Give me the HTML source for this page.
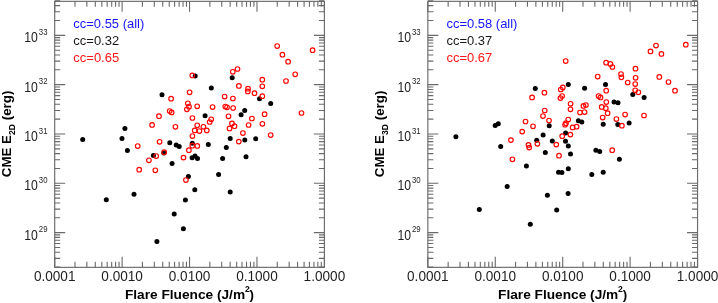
<!DOCTYPE html>
<html><head><meta charset="utf-8"><style>
html,body{margin:0;padding:0;background:#fff;overflow:hidden;width:718px;height:303px;}
svg{display:block;will-change:transform;}
text{font-family:"Liberation Sans",sans-serif;}
.tl{font-size:14.3px;fill:#1e1e1e;}
.sup{font-size:9.2px;fill:#1e1e1e;}
.lg{font-size:13.6px;}
.ti{font-size:13.3px;font-weight:bold;fill:#000;}
.tis{font-size:8.6px;font-weight:bold;fill:#000;}
</style></head><body>
<svg width="718" height="303" viewBox="0 0 718 303">
<rect x="54.70" y="1.35" width="269.70" height="266.00" fill="none" stroke="#6a6a6a" stroke-width="1.15"/>
<path d="M54.70 267.35v-10.5M54.70 1.35v10.5M75.00 267.35v-5.5M75.00 1.35v5.5M86.87 267.35v-5.5M86.87 1.35v5.5M95.29 267.35v-5.5M95.29 1.35v5.5M101.83 267.35v-5.5M101.83 1.35v5.5M107.17 267.35v-5.5M107.17 1.35v5.5M111.68 267.35v-5.5M111.68 1.35v5.5M115.59 267.35v-5.5M115.59 1.35v5.5M119.04 267.35v-5.5M119.04 1.35v5.5M122.12 267.35v-10.5M122.12 1.35v10.5M142.42 267.35v-5.5M142.42 1.35v5.5M154.29 267.35v-5.5M154.29 1.35v5.5M162.72 267.35v-5.5M162.72 1.35v5.5M169.25 267.35v-5.5M169.25 1.35v5.5M174.59 267.35v-5.5M174.59 1.35v5.5M179.11 267.35v-5.5M179.11 1.35v5.5M183.02 267.35v-5.5M183.02 1.35v5.5M186.46 267.35v-5.5M186.46 1.35v5.5M189.55 267.35v-10.5M189.55 1.35v10.5M209.85 267.35v-5.5M209.85 1.35v5.5M221.72 267.35v-5.5M221.72 1.35v5.5M230.14 267.35v-5.5M230.14 1.35v5.5M236.68 267.35v-5.5M236.68 1.35v5.5M242.02 267.35v-5.5M242.02 1.35v5.5M246.53 267.35v-5.5M246.53 1.35v5.5M250.44 267.35v-5.5M250.44 1.35v5.5M253.89 267.35v-5.5M253.89 1.35v5.5M256.97 267.35v-10.5M256.97 1.35v10.5M277.27 267.35v-5.5M277.27 1.35v5.5M289.14 267.35v-5.5M289.14 1.35v5.5M297.57 267.35v-5.5M297.57 1.35v5.5M304.10 267.35v-5.5M304.10 1.35v5.5M309.44 267.35v-5.5M309.44 1.35v5.5M313.96 267.35v-5.5M313.96 1.35v5.5M317.87 267.35v-5.5M317.87 1.35v5.5M321.31 267.35v-5.5M321.31 1.35v5.5M324.40 267.35v-10.5M324.40 1.35v10.5M54.70 267.10h5.5M324.40 267.10h-5.5M54.70 258.42h5.5M324.40 258.42h-5.5M54.70 252.26h5.5M324.40 252.26h-5.5M54.70 247.48h5.5M324.40 247.48h-5.5M54.70 243.57h5.5M324.40 243.57h-5.5M54.70 240.27h5.5M324.40 240.27h-5.5M54.70 237.41h5.5M324.40 237.41h-5.5M54.70 234.89h5.5M324.40 234.89h-5.5M54.70 232.63h10.5M324.40 232.63h-10.5M54.70 217.78h5.5M324.40 217.78h-5.5M54.70 209.10h5.5M324.40 209.10h-5.5M54.70 202.94h5.5M324.40 202.94h-5.5M54.70 198.16h5.5M324.40 198.16h-5.5M54.70 194.25h5.5M324.40 194.25h-5.5M54.70 190.95h5.5M324.40 190.95h-5.5M54.70 188.09h5.5M324.40 188.09h-5.5M54.70 185.57h5.5M324.40 185.57h-5.5M54.70 183.31h10.5M324.40 183.31h-10.5M54.70 168.46h5.5M324.40 168.46h-5.5M54.70 159.78h5.5M324.40 159.78h-5.5M54.70 153.62h5.5M324.40 153.62h-5.5M54.70 148.84h5.5M324.40 148.84h-5.5M54.70 144.93h5.5M324.40 144.93h-5.5M54.70 141.63h5.5M324.40 141.63h-5.5M54.70 138.77h5.5M324.40 138.77h-5.5M54.70 136.25h5.5M324.40 136.25h-5.5M54.70 133.99h10.5M324.40 133.99h-10.5M54.70 119.14h5.5M324.40 119.14h-5.5M54.70 110.46h5.5M324.40 110.46h-5.5M54.70 104.30h5.5M324.40 104.30h-5.5M54.70 99.52h5.5M324.40 99.52h-5.5M54.70 95.61h5.5M324.40 95.61h-5.5M54.70 92.31h5.5M324.40 92.31h-5.5M54.70 89.45h5.5M324.40 89.45h-5.5M54.70 86.93h5.5M324.40 86.93h-5.5M54.70 84.67h10.5M324.40 84.67h-10.5M54.70 69.82h5.5M324.40 69.82h-5.5M54.70 61.14h5.5M324.40 61.14h-5.5M54.70 54.98h5.5M324.40 54.98h-5.5M54.70 50.20h5.5M324.40 50.20h-5.5M54.70 46.29h5.5M324.40 46.29h-5.5M54.70 42.99h5.5M324.40 42.99h-5.5M54.70 40.13h5.5M324.40 40.13h-5.5M54.70 37.61h5.5M324.40 37.61h-5.5M54.70 35.35h10.5M324.40 35.35h-10.5M54.70 20.50h5.5M324.40 20.50h-5.5M54.70 11.82h5.5M324.40 11.82h-5.5M54.70 5.66h5.5M324.40 5.66h-5.5M54.70 0.88h5.5M324.40 0.88h-5.5" stroke="#6a6a6a" stroke-width="1.1" fill="none"/>
<text x="54.70" y="281.1" class="tl" text-anchor="middle" textLength="41.6" lengthAdjust="spacingAndGlyphs">0.0001</text>
<text x="122.12" y="281.1" class="tl" text-anchor="middle" textLength="41.6" lengthAdjust="spacingAndGlyphs">0.0010</text>
<text x="189.55" y="281.1" class="tl" text-anchor="middle" textLength="41.6" lengthAdjust="spacingAndGlyphs">0.0100</text>
<text x="256.97" y="281.1" class="tl" text-anchor="middle" textLength="41.6" lengthAdjust="spacingAndGlyphs">0.1000</text>
<text x="324.40" y="281.1" class="tl" text-anchor="middle" textLength="41.6" lengthAdjust="spacingAndGlyphs">1.0000</text>
<text x="24.30" y="239.63" class="tl" textLength="13.6" lengthAdjust="spacingAndGlyphs">10</text>
<text x="38.80" y="232.43" class="sup" textLength="8.7" lengthAdjust="spacingAndGlyphs">29</text>
<text x="24.30" y="190.31" class="tl" textLength="13.6" lengthAdjust="spacingAndGlyphs">10</text>
<text x="38.80" y="183.11" class="sup" textLength="8.7" lengthAdjust="spacingAndGlyphs">30</text>
<text x="24.30" y="140.99" class="tl" textLength="13.6" lengthAdjust="spacingAndGlyphs">10</text>
<text x="38.80" y="133.79" class="sup" textLength="8.7" lengthAdjust="spacingAndGlyphs">31</text>
<text x="24.30" y="91.67" class="tl" textLength="13.6" lengthAdjust="spacingAndGlyphs">10</text>
<text x="38.80" y="84.47" class="sup" textLength="8.7" lengthAdjust="spacingAndGlyphs">32</text>
<text x="24.30" y="42.35" class="tl" textLength="13.6" lengthAdjust="spacingAndGlyphs">10</text>
<text x="38.80" y="35.15" class="sup" textLength="8.7" lengthAdjust="spacingAndGlyphs">33</text>
<rect x="427.85" y="1.35" width="269.70" height="266.00" fill="none" stroke="#6a6a6a" stroke-width="1.15"/>
<path d="M427.85 267.35v-10.5M427.85 1.35v10.5M448.15 267.35v-5.5M448.15 1.35v5.5M460.02 267.35v-5.5M460.02 1.35v5.5M468.44 267.35v-5.5M468.44 1.35v5.5M474.98 267.35v-5.5M474.98 1.35v5.5M480.32 267.35v-5.5M480.32 1.35v5.5M484.83 267.35v-5.5M484.83 1.35v5.5M488.74 267.35v-5.5M488.74 1.35v5.5M492.19 267.35v-5.5M492.19 1.35v5.5M495.28 267.35v-10.5M495.28 1.35v10.5M515.57 267.35v-5.5M515.57 1.35v5.5M527.44 267.35v-5.5M527.44 1.35v5.5M535.87 267.35v-5.5M535.87 1.35v5.5M542.40 267.35v-5.5M542.40 1.35v5.5M547.74 267.35v-5.5M547.74 1.35v5.5M552.26 267.35v-5.5M552.26 1.35v5.5M556.17 267.35v-5.5M556.17 1.35v5.5M559.61 267.35v-5.5M559.61 1.35v5.5M562.70 267.35v-10.5M562.70 1.35v10.5M583.00 267.35v-5.5M583.00 1.35v5.5M594.87 267.35v-5.5M594.87 1.35v5.5M603.29 267.35v-5.5M603.29 1.35v5.5M609.83 267.35v-5.5M609.83 1.35v5.5M615.17 267.35v-5.5M615.17 1.35v5.5M619.68 267.35v-5.5M619.68 1.35v5.5M623.59 267.35v-5.5M623.59 1.35v5.5M627.04 267.35v-5.5M627.04 1.35v5.5M630.12 267.35v-10.5M630.12 1.35v10.5M650.42 267.35v-5.5M650.42 1.35v5.5M662.29 267.35v-5.5M662.29 1.35v5.5M670.72 267.35v-5.5M670.72 1.35v5.5M677.25 267.35v-5.5M677.25 1.35v5.5M682.59 267.35v-5.5M682.59 1.35v5.5M687.11 267.35v-5.5M687.11 1.35v5.5M691.02 267.35v-5.5M691.02 1.35v5.5M694.46 267.35v-5.5M694.46 1.35v5.5M697.55 267.35v-10.5M697.55 1.35v10.5M427.85 267.10h5.5M697.55 267.10h-5.5M427.85 258.42h5.5M697.55 258.42h-5.5M427.85 252.26h5.5M697.55 252.26h-5.5M427.85 247.48h5.5M697.55 247.48h-5.5M427.85 243.57h5.5M697.55 243.57h-5.5M427.85 240.27h5.5M697.55 240.27h-5.5M427.85 237.41h5.5M697.55 237.41h-5.5M427.85 234.89h5.5M697.55 234.89h-5.5M427.85 232.63h10.5M697.55 232.63h-10.5M427.85 217.78h5.5M697.55 217.78h-5.5M427.85 209.10h5.5M697.55 209.10h-5.5M427.85 202.94h5.5M697.55 202.94h-5.5M427.85 198.16h5.5M697.55 198.16h-5.5M427.85 194.25h5.5M697.55 194.25h-5.5M427.85 190.95h5.5M697.55 190.95h-5.5M427.85 188.09h5.5M697.55 188.09h-5.5M427.85 185.57h5.5M697.55 185.57h-5.5M427.85 183.31h10.5M697.55 183.31h-10.5M427.85 168.46h5.5M697.55 168.46h-5.5M427.85 159.78h5.5M697.55 159.78h-5.5M427.85 153.62h5.5M697.55 153.62h-5.5M427.85 148.84h5.5M697.55 148.84h-5.5M427.85 144.93h5.5M697.55 144.93h-5.5M427.85 141.63h5.5M697.55 141.63h-5.5M427.85 138.77h5.5M697.55 138.77h-5.5M427.85 136.25h5.5M697.55 136.25h-5.5M427.85 133.99h10.5M697.55 133.99h-10.5M427.85 119.14h5.5M697.55 119.14h-5.5M427.85 110.46h5.5M697.55 110.46h-5.5M427.85 104.30h5.5M697.55 104.30h-5.5M427.85 99.52h5.5M697.55 99.52h-5.5M427.85 95.61h5.5M697.55 95.61h-5.5M427.85 92.31h5.5M697.55 92.31h-5.5M427.85 89.45h5.5M697.55 89.45h-5.5M427.85 86.93h5.5M697.55 86.93h-5.5M427.85 84.67h10.5M697.55 84.67h-10.5M427.85 69.82h5.5M697.55 69.82h-5.5M427.85 61.14h5.5M697.55 61.14h-5.5M427.85 54.98h5.5M697.55 54.98h-5.5M427.85 50.20h5.5M697.55 50.20h-5.5M427.85 46.29h5.5M697.55 46.29h-5.5M427.85 42.99h5.5M697.55 42.99h-5.5M427.85 40.13h5.5M697.55 40.13h-5.5M427.85 37.61h5.5M697.55 37.61h-5.5M427.85 35.35h10.5M697.55 35.35h-10.5M427.85 20.50h5.5M697.55 20.50h-5.5M427.85 11.82h5.5M697.55 11.82h-5.5M427.85 5.66h5.5M697.55 5.66h-5.5M427.85 0.88h5.5M697.55 0.88h-5.5" stroke="#6a6a6a" stroke-width="1.1" fill="none"/>
<text x="427.85" y="281.1" class="tl" text-anchor="middle" textLength="41.6" lengthAdjust="spacingAndGlyphs">0.0001</text>
<text x="495.28" y="281.1" class="tl" text-anchor="middle" textLength="41.6" lengthAdjust="spacingAndGlyphs">0.0010</text>
<text x="562.70" y="281.1" class="tl" text-anchor="middle" textLength="41.6" lengthAdjust="spacingAndGlyphs">0.0100</text>
<text x="630.12" y="281.1" class="tl" text-anchor="middle" textLength="41.6" lengthAdjust="spacingAndGlyphs">0.1000</text>
<text x="697.55" y="281.1" class="tl" text-anchor="middle" textLength="41.6" lengthAdjust="spacingAndGlyphs">1.0000</text>
<text x="397.45" y="239.63" class="tl" textLength="13.6" lengthAdjust="spacingAndGlyphs">10</text>
<text x="411.95" y="232.43" class="sup" textLength="8.7" lengthAdjust="spacingAndGlyphs">29</text>
<text x="397.45" y="190.31" class="tl" textLength="13.6" lengthAdjust="spacingAndGlyphs">10</text>
<text x="411.95" y="183.11" class="sup" textLength="8.7" lengthAdjust="spacingAndGlyphs">30</text>
<text x="397.45" y="140.99" class="tl" textLength="13.6" lengthAdjust="spacingAndGlyphs">10</text>
<text x="411.95" y="133.79" class="sup" textLength="8.7" lengthAdjust="spacingAndGlyphs">31</text>
<text x="397.45" y="91.67" class="tl" textLength="13.6" lengthAdjust="spacingAndGlyphs">10</text>
<text x="411.95" y="84.47" class="sup" textLength="8.7" lengthAdjust="spacingAndGlyphs">32</text>
<text x="397.45" y="42.35" class="tl" textLength="13.6" lengthAdjust="spacingAndGlyphs">10</text>
<text x="411.95" y="35.15" class="sup" textLength="8.7" lengthAdjust="spacingAndGlyphs">33</text>
<g fill="#000"><circle cx="232.2" cy="77.7" r="2.5"/><circle cx="195.2" cy="75.9" r="2.5"/><circle cx="162.0" cy="94.8" r="2.5"/><circle cx="124.9" cy="128.4" r="2.5"/><circle cx="211.3" cy="88.0" r="2.5"/><circle cx="259.5" cy="98.8" r="2.5"/><circle cx="270.7" cy="103.6" r="2.5"/><circle cx="244.7" cy="110.4" r="2.5"/><circle cx="241.1" cy="114.7" r="2.5"/><circle cx="205.1" cy="115.7" r="2.5"/><circle cx="230.2" cy="138.4" r="2.5"/><circle cx="244.8" cy="140.0" r="2.5"/><circle cx="255.7" cy="138.7" r="2.5"/><circle cx="82.7" cy="139.4" r="2.5"/><circle cx="122.0" cy="138.4" r="2.5"/><circle cx="127.4" cy="150.6" r="2.5"/><circle cx="169.8" cy="142.7" r="2.5"/><circle cx="176.2" cy="144.9" r="2.5"/><circle cx="179.2" cy="146.4" r="2.5"/><circle cx="192.3" cy="143.2" r="2.5"/><circle cx="208.3" cy="144.5" r="2.5"/><circle cx="163.8" cy="153.0" r="2.5"/><circle cx="153.4" cy="155.5" r="2.5"/><circle cx="192.1" cy="157.7" r="2.5"/><circle cx="195.0" cy="156.1" r="2.5"/><circle cx="197.5" cy="158.6" r="2.5"/><circle cx="226.3" cy="147.4" r="2.5"/><circle cx="222.6" cy="158.4" r="2.5"/><circle cx="246.0" cy="156.8" r="2.5"/><circle cx="172.1" cy="163.6" r="2.5"/><circle cx="188.4" cy="176.6" r="2.5"/><circle cx="218.6" cy="174.5" r="2.5"/><circle cx="134.0" cy="194.2" r="2.5"/><circle cx="106.3" cy="199.8" r="2.5"/><circle cx="194.8" cy="189.7" r="2.5"/><circle cx="185.4" cy="200.1" r="2.5"/><circle cx="230.2" cy="192.0" r="2.5"/><circle cx="174.2" cy="213.9" r="2.5"/><circle cx="183.4" cy="228.8" r="2.5"/><circle cx="156.9" cy="241.4" r="2.5"/></g>
<g fill="none" stroke="#ff0000" stroke-width="1.15"><circle cx="277.2" cy="46.0" r="2.3"/><circle cx="312.6" cy="50.2" r="2.3"/><circle cx="282.4" cy="54.7" r="2.3"/><circle cx="288.1" cy="61.7" r="2.3"/><circle cx="237.5" cy="69.0" r="2.3"/><circle cx="232.8" cy="71.8" r="2.3"/><circle cx="295.2" cy="74.3" r="2.3"/><circle cx="262.3" cy="79.7" r="2.3"/><circle cx="286.0" cy="81.0" r="2.3"/><circle cx="192.3" cy="75.4" r="2.3"/><circle cx="171.1" cy="98.7" r="2.3"/><circle cx="169.7" cy="111.1" r="2.3"/><circle cx="171.6" cy="112.4" r="2.3"/><circle cx="159.0" cy="116.2" r="2.3"/><circle cx="152.1" cy="124.9" r="2.3"/><circle cx="175.4" cy="126.8" r="2.3"/><circle cx="189.6" cy="92.3" r="2.3"/><circle cx="187.8" cy="103.3" r="2.3"/><circle cx="189.0" cy="106.7" r="2.3"/><circle cx="186.9" cy="109.3" r="2.3"/><circle cx="197.2" cy="106.3" r="2.3"/><circle cx="212.6" cy="107.1" r="2.3"/><circle cx="224.6" cy="96.6" r="2.3"/><circle cx="238.9" cy="85.9" r="2.3"/><circle cx="262.3" cy="86.3" r="2.3"/><circle cx="248.0" cy="88.7" r="2.3"/><circle cx="247.8" cy="91.4" r="2.3"/><circle cx="254.5" cy="93.2" r="2.3"/><circle cx="262.3" cy="96.2" r="2.3"/><circle cx="232.9" cy="98.5" r="2.3"/><circle cx="225.3" cy="106.5" r="2.3"/><circle cx="227.0" cy="107.3" r="2.3"/><circle cx="233.1" cy="108.0" r="2.3"/><circle cx="264.6" cy="114.2" r="2.3"/><circle cx="228.5" cy="116.3" r="2.3"/><circle cx="251.9" cy="118.5" r="2.3"/><circle cx="301.5" cy="113.0" r="2.3"/><circle cx="192.4" cy="118.0" r="2.3"/><circle cx="211.2" cy="119.3" r="2.3"/><circle cx="209.7" cy="122.0" r="2.3"/><circle cx="197.2" cy="125.3" r="2.3"/><circle cx="203.4" cy="126.8" r="2.3"/><circle cx="194.7" cy="130.4" r="2.3"/><circle cx="199.4" cy="131.0" r="2.3"/><circle cx="206.8" cy="130.4" r="2.3"/><circle cx="192.4" cy="136.0" r="2.3"/><circle cx="232.0" cy="123.4" r="2.3"/><circle cx="234.5" cy="126.2" r="2.3"/><circle cx="229.5" cy="128.4" r="2.3"/><circle cx="248.6" cy="125.0" r="2.3"/><circle cx="262.4" cy="123.8" r="2.3"/><circle cx="242.9" cy="133.0" r="2.3"/><circle cx="270.7" cy="135.0" r="2.3"/><circle cx="238.8" cy="141.6" r="2.3"/><circle cx="137.7" cy="146.0" r="2.3"/><circle cx="159.6" cy="141.8" r="2.3"/><circle cx="164.2" cy="152.2" r="2.3"/><circle cx="156.2" cy="156.0" r="2.3"/><circle cx="148.9" cy="160.3" r="2.3"/><circle cx="192.3" cy="145.7" r="2.3"/><circle cx="197.3" cy="145.9" r="2.3"/><circle cx="188.9" cy="150.2" r="2.3"/><circle cx="183.5" cy="157.6" r="2.3"/><circle cx="139.2" cy="169.7" r="2.3"/><circle cx="155.3" cy="170.3" r="2.3"/><circle cx="185.9" cy="180.0" r="2.3"/></g>
<g fill="#000"><circle cx="568.3" cy="84.5" r="2.5"/><circle cx="535.3" cy="88.5" r="2.5"/><circle cx="584.6" cy="88.2" r="2.5"/><circle cx="605.5" cy="84.6" r="2.5"/><circle cx="632.8" cy="94.4" r="2.5"/><circle cx="644.1" cy="97.4" r="2.5"/><circle cx="614.0" cy="102.1" r="2.5"/><circle cx="618.0" cy="102.7" r="2.5"/><circle cx="578.4" cy="120.7" r="2.5"/><circle cx="581.8" cy="122.0" r="2.5"/><circle cx="603.2" cy="124.2" r="2.5"/><circle cx="617.8" cy="124.6" r="2.5"/><circle cx="629.1" cy="123.1" r="2.5"/><circle cx="549.2" cy="125.8" r="2.5"/><circle cx="565.6" cy="133.1" r="2.5"/><circle cx="543.1" cy="135.0" r="2.5"/><circle cx="495.2" cy="125.6" r="2.5"/><circle cx="498.3" cy="123.8" r="2.5"/><circle cx="455.9" cy="136.8" r="2.5"/><circle cx="500.7" cy="146.6" r="2.5"/><circle cx="536.7" cy="140.2" r="2.5"/><circle cx="552.3" cy="141.0" r="2.5"/><circle cx="565.5" cy="141.3" r="2.5"/><circle cx="568.3" cy="146.0" r="2.5"/><circle cx="545.3" cy="152.5" r="2.5"/><circle cx="570.5" cy="154.1" r="2.5"/><circle cx="595.9" cy="150.2" r="2.5"/><circle cx="599.7" cy="151.6" r="2.5"/><circle cx="619.4" cy="159.2" r="2.5"/><circle cx="526.4" cy="165.9" r="2.5"/><circle cx="558.5" cy="172.2" r="2.5"/><circle cx="561.9" cy="172.4" r="2.5"/><circle cx="568.3" cy="168.8" r="2.5"/><circle cx="591.8" cy="174.6" r="2.5"/><circle cx="603.2" cy="172.2" r="2.5"/><circle cx="507.2" cy="186.4" r="2.5"/><circle cx="547.4" cy="195.2" r="2.5"/><circle cx="568.1" cy="193.4" r="2.5"/><circle cx="556.7" cy="210.1" r="2.5"/><circle cx="479.3" cy="209.5" r="2.5"/><circle cx="530.3" cy="224.2" r="2.5"/></g>
<g fill="none" stroke="#ff0000" stroke-width="1.15"><circle cx="656.0" cy="45.5" r="2.3"/><circle cx="685.8" cy="44.7" r="2.3"/><circle cx="650.5" cy="51.4" r="2.3"/><circle cx="661.4" cy="53.9" r="2.3"/><circle cx="565.7" cy="61.0" r="2.3"/><circle cx="606.1" cy="62.7" r="2.3"/><circle cx="610.4" cy="63.9" r="2.3"/><circle cx="612.4" cy="67.0" r="2.3"/><circle cx="635.5" cy="68.7" r="2.3"/><circle cx="597.7" cy="76.6" r="2.3"/><circle cx="621.0" cy="74.1" r="2.3"/><circle cx="621.4" cy="77.3" r="2.3"/><circle cx="635.6" cy="77.8" r="2.3"/><circle cx="659.3" cy="76.9" r="2.3"/><circle cx="668.5" cy="82.0" r="2.3"/><circle cx="627.7" cy="82.5" r="2.3"/><circle cx="635.2" cy="84.1" r="2.3"/><circle cx="635.2" cy="90.3" r="2.3"/><circle cx="638.4" cy="92.3" r="2.3"/><circle cx="675.0" cy="90.7" r="2.3"/><circle cx="606.2" cy="90.7" r="2.3"/><circle cx="598.6" cy="96.1" r="2.3"/><circle cx="600.5" cy="97.4" r="2.3"/><circle cx="544.4" cy="92.7" r="2.3"/><circle cx="532.1" cy="97.4" r="2.3"/><circle cx="562.8" cy="87.4" r="2.3"/><circle cx="560.8" cy="89.5" r="2.3"/><circle cx="562.1" cy="96.0" r="2.3"/><circle cx="560.4" cy="98.1" r="2.3"/><circle cx="570.6" cy="103.8" r="2.3"/><circle cx="570.5" cy="109.3" r="2.3"/><circle cx="606.3" cy="102.1" r="2.3"/><circle cx="583.4" cy="105.9" r="2.3"/><circle cx="585.9" cy="105.0" r="2.3"/><circle cx="580.0" cy="112.5" r="2.3"/><circle cx="584.6" cy="112.1" r="2.3"/><circle cx="601.7" cy="106.9" r="2.3"/><circle cx="605.8" cy="108.2" r="2.3"/><circle cx="607.6" cy="113.2" r="2.3"/><circle cx="625.1" cy="114.6" r="2.3"/><circle cx="602.7" cy="117.6" r="2.3"/><circle cx="616.4" cy="119.1" r="2.3"/><circle cx="544.7" cy="110.5" r="2.3"/><circle cx="543.0" cy="116.1" r="2.3"/><circle cx="549.0" cy="120.5" r="2.3"/><circle cx="525.5" cy="121.5" r="2.3"/><circle cx="533.0" cy="126.3" r="2.3"/><circle cx="522.2" cy="131.6" r="2.3"/><circle cx="568.2" cy="119.6" r="2.3"/><circle cx="566.0" cy="123.2" r="2.3"/><circle cx="565.1" cy="124.7" r="2.3"/><circle cx="572.6" cy="127.4" r="2.3"/><circle cx="576.6" cy="126.7" r="2.3"/><circle cx="570.4" cy="134.6" r="2.3"/><circle cx="562.2" cy="136.2" r="2.3"/><circle cx="621.9" cy="125.7" r="2.3"/><circle cx="644.0" cy="115.5" r="2.3"/><circle cx="510.9" cy="140.1" r="2.3"/><circle cx="528.5" cy="144.9" r="2.3"/><circle cx="529.2" cy="147.6" r="2.3"/><circle cx="537.4" cy="143.8" r="2.3"/><circle cx="556.3" cy="144.6" r="2.3"/><circle cx="559.0" cy="155.7" r="2.3"/><circle cx="612.2" cy="150.2" r="2.3"/><circle cx="512.4" cy="159.3" r="2.3"/></g>
<text x="73.30" y="28.2" class="lg" fill="#1515ff" textLength="71.0" lengthAdjust="spacingAndGlyphs">cc=0.55 (all)</text>
<text x="73.30" y="45.3" class="lg" fill="#1a1a1a" textLength="45.9" lengthAdjust="spacingAndGlyphs">cc=0.32</text>
<text x="73.30" y="62.3" class="lg" fill="#ff1515" textLength="45.9" lengthAdjust="spacingAndGlyphs">cc=0.65</text>
<text x="124.90" y="299.2" class="ti" style="font-size:13.7px">Flare Fluence (J/m</text>
<text x="244.90" y="291.9" class="tis">2</text>
<text x="249.60" y="299.2" class="ti">)</text>
<g transform="translate(10.50,177.2) rotate(-90)"><text x="0" y="0" class="ti">CME E</text><text x="42.2" y="4.2" class="tis">2D</text><text x="57.0" y="0" class="ti">(erg)</text></g>
<text x="446.45" y="28.2" class="lg" fill="#1515ff" textLength="71.0" lengthAdjust="spacingAndGlyphs">cc=0.58 (all)</text>
<text x="446.45" y="45.3" class="lg" fill="#1a1a1a" textLength="45.9" lengthAdjust="spacingAndGlyphs">cc=0.37</text>
<text x="446.45" y="62.3" class="lg" fill="#ff1515" textLength="45.9" lengthAdjust="spacingAndGlyphs">cc=0.67</text>
<text x="498.05" y="299.2" class="ti" style="font-size:13.7px">Flare Fluence (J/m</text>
<text x="618.05" y="291.9" class="tis">2</text>
<text x="622.75" y="299.2" class="ti">)</text>
<g transform="translate(383.65,177.2) rotate(-90)"><text x="0" y="0" class="ti">CME E</text><text x="42.2" y="4.2" class="tis">3D</text><text x="57.0" y="0" class="ti">(erg)</text></g>
</svg>
</body></html>
